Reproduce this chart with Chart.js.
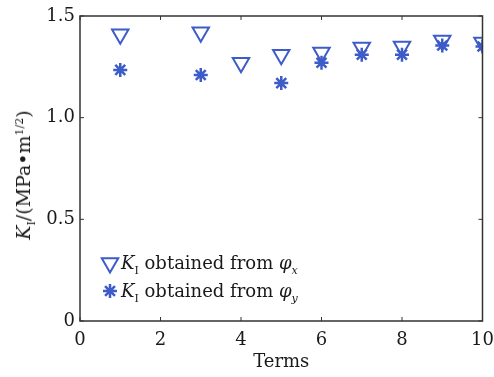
<!DOCTYPE html>
<html>
<head>
<meta charset="utf-8">
<script src="https://cdn.jsdelivr.net/npm/chart.js@4.4.0/dist/chart.umd.min.js"></script>
<style>
  html, body { margin: 0; padding: 0; background: #fff; }
  #wrap { position: relative; width: 494px; height: 377px; }
  canvas { position: absolute; left: 0; top: 0; }
  .lbl { position: absolute; font-family: "DejaVu Serif", serif; color: #1a1a1a; white-space: nowrap; }
  .ylab { left: 23px; top: 175px; font-size: 19px; transform: translate(-50%, -50%) rotate(-90deg); }
  .leg { left: 121px; top: 249px; font-size: 18px; line-height: 28px; }
  .lbl i { font-style: italic; }
  .lbl sub, .lbl sup { font-size: 11px; line-height: 0; }
</style>
</head>
<body>
<div id="wrap">
  <canvas id="c" width="494" height="377"></canvas>
  <div class="lbl ylab"><i>K</i><sub>I</sub>/(MPa•m<sup>1/2</sup>)</div>
  <div class="lbl leg">
    <div><i>K</i><sub>I</sub> obtained from <i>φ</i><sub><i>x</i></sub></div>
    <div><i>K</i><sub>I</sub> obtained from <i>φ</i><sub><i>y</i></sub></div>
  </div>
</div>
<script>
// ===============================
// DATA
// ===============================
const termsX = [1, 3, 4, 5, 6, 7, 8, 9, 10];
const kFromPhiX = [1.41, 1.42, 1.27, 1.31, 1.32, 1.345, 1.35, 1.38, 1.37];
const termsY = [1, 3, 5, 6, 7, 8, 9, 10];
const kFromPhiY = [1.235, 1.21, 1.17, 1.27, 1.31, 1.31, 1.355, 1.35];
const xTicks = [0, 2, 4, 6, 8, 10];
const yTicks = [0, 0.5, 1.0, 1.5];

const blue = "#3d5cc8";
const serif = "'DejaVu Serif', serif";

const triStyle = { pointStyle: "triangle", rotation: 180, radius: 9.5, borderWidth: 2 };
const starStyle = { pointStyle: "star", rotation: 0, radius: 7, borderWidth: 2.5 };

// box + inward ticks on all four sides, legend markers
const boxPlugin = {
  id: "box",
  afterDraw(chart) {
    const { ctx, chartArea: a, scales } = chart;
    ctx.save();
    ctx.strokeStyle = "#333";
    ctx.lineWidth = 1.5;
    ctx.strokeRect(a.left, a.top, a.right - a.left, a.bottom - a.top);
    ctx.lineWidth = 1;
    xTicks.forEach(v => {
      const x = scales.x.getPixelForValue(v);
      ctx.beginPath();
      ctx.moveTo(x, a.bottom); ctx.lineTo(x, a.bottom - 4);
      ctx.moveTo(x, a.top); ctx.lineTo(x, a.top + 4);
      ctx.stroke();
    });
    yTicks.forEach(v => {
      const y = scales.y.getPixelForValue(v);
      ctx.beginPath();
      ctx.moveTo(a.left, y); ctx.lineTo(a.left + 4, y);
      ctx.moveTo(a.right, y); ctx.lineTo(a.right - 4, y);
      ctx.stroke();
    });
    // legend symbols
    ctx.strokeStyle = blue;
    ctx.fillStyle = "rgba(0,0,0,0)";
    ctx.lineWidth = triStyle.borderWidth;
    Chart.helpers.drawPoint(ctx, triStyle, 110, 263);
    ctx.lineWidth = starStyle.borderWidth;
    Chart.helpers.drawPoint(ctx, starStyle, 110, 291);
    ctx.restore();
  }
};

new Chart(document.getElementById("c"), {
  type: "scatter",
  data: {
    datasets: [
      {
        data: termsX.map((x, i) => ({ x, y: kFromPhiX[i] })),
        ...triStyle,
        borderColor: blue,
        backgroundColor: "rgba(0,0,0,0)"
      },
      {
        data: termsY.map((x, i) => ({ x, y: kFromPhiY[i] })),
        ...starStyle,
        borderColor: blue,
        backgroundColor: blue
      }
    ]
  },
  options: {
    responsive: false,
    animation: false,
    layout: { padding: { top: 16, right: 11, left: 0, bottom: 0 } },
    plugins: { legend: { display: false }, tooltip: { enabled: false } },
    scales: {
      x: {
        type: "linear", min: 0, max: 10,
        grid: { display: false, drawTicks: false },
        border: { display: false },
        afterBuildTicks: s => { s.ticks = xTicks.map(v => ({ value: v })); },
        afterFit: s => { s.height = 56; s.paddingRight = 0; s.paddingLeft = 0; },
        ticks: { color: "#1a1a1a", padding: 9, font: { family: serif, size: 18 }, callback: v => v },
        title: { display: true, text: "Terms", color: "#1a1a1a", font: { family: serif, size: 18 }, padding: { top: 0 } }
      },
      y: {
        min: 0, max: 1.5,
        grid: { display: false, drawTicks: false },
        border: { display: false },
        afterBuildTicks: s => { s.ticks = yTicks.map(v => ({ value: v })); },
        afterFit: s => { s.width = 80; s.paddingTop = 0; s.paddingBottom = 0; },
        ticks: { color: "#1a1a1a", padding: 5, font: { family: serif, size: 18 },
          callback: v => (v === 0 ? "0" : v.toFixed(1)) }
      }
    }
  },
  plugins: [boxPlugin]
});
</script>
</body>
</html>
